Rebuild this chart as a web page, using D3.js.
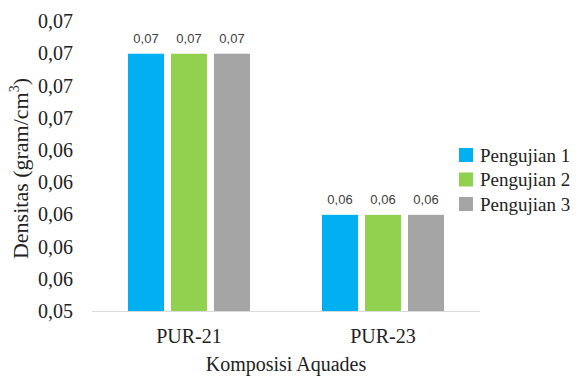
<!DOCTYPE html>
<html><head><meta charset="utf-8">
<script src="https://cdn.jsdelivr.net/npm/d3@7"></script>
<style>body{margin:0;background:#fff} .serif{font-family:"Liberation Serif","Times New Roman","DejaVu Serif",serif}</style>
</head><body>
<svg id="c" width="581" height="376"></svg>
<script>
const categories = ["PUR-21", "PUR-23"];
const seriesNames = ["Pengujian 1", "Pengujian 2", "Pengujian 3"];
const pengujian1 = [0.070, 0.060];
const pengujian2 = [0.070, 0.060];
const pengujian3 = [0.070, 0.060];
const yTicks = [0.054, 0.056, 0.058, 0.060, 0.062, 0.064, 0.066, 0.068, 0.070, 0.072];
const colors = ["#00B0F0", "#92D050", "#A5A5A5"];

const series = [pengujian1, pengujian2, pengujian3];
const svg = d3.select("#c");
const mLeft = 92, mRight = 480, mTop = 21.5, mBottom = 311.5;
const fmt = v => d3.format(".2f")(v).replace(".", ",");

const y = d3.scaleLinear().domain([0.054, 0.072]).range([mBottom, mTop]);
const x0 = d3.scaleBand().domain(categories).range([mLeft, mRight]).padding(0);
const x1 = d3.scaleBand().domain(seriesNames).range([36, 158]).paddingInner(0.163);

// y tick labels
svg.append("g").selectAll("text").data(yTicks).join("text")
  .attr("class", "serif")
  .attr("x", 73).attr("y", d => y(d)).attr("dy", "0.33em")
  .attr("text-anchor", "end")
  .attr("font-size", 20).attr("fill", "#222")
  .text(fmt);

// bars
const g = svg.append("g");
categories.forEach((c, i) => {
  seriesNames.forEach((s, j) => {
    const v = series[j][i];
    const bx = x0(c) + x1(s);
    g.append("rect").attr("x", bx).attr("y", y(v))
      .attr("width", x1.bandwidth()).attr("height", mBottom - 0.5 - y(v))
      .attr("fill", colors[j]);
    g.append("text").attr("x", bx + x1.bandwidth() / 2).attr("y", y(v) - 10.5)
      .attr("text-anchor", "middle")
      .style("font-family", "'Liberation Sans', Arial, sans-serif").attr("font-size", 13).attr("fill", "#404040")
      .text(fmt(v));
  });
});

// x axis line
svg.append("line").attr("x1", mLeft).attr("x2", mRight).attr("y1", mBottom).attr("y2", mBottom)
  .attr("stroke", "#D9D9D9").attr("stroke-width", 1);

// category labels
svg.append("g").selectAll("text").data(categories).join("text")
  .attr("class", "serif")
  .attr("x", d => x0(d) + x0.bandwidth() / 2).attr("y", 343)
  .attr("text-anchor", "middle")
  .attr("font-size", 20).attr("fill", "#222")
  .text(d => d);

// axis titles
svg.append("text").attr("class", "serif").attr("x", (mLeft + mRight) / 2).attr("y", 371)
  .attr("text-anchor", "middle")
  .attr("font-size", 20).attr("fill", "#222")
  .text("Komposisi Aquades");

const yt = svg.append("text").attr("class", "serif").attr("transform", "translate(28,168.5) rotate(-90)")
  .attr("text-anchor", "middle")
  .attr("font-size", 22).attr("fill", "#222");
yt.append("tspan").text("Densitas (gram/cm");
yt.append("tspan").attr("font-size", 14).attr("dy", -9).text("3");
yt.append("tspan").attr("dy", 9).text(")");

// legend
const lg = svg.append("g");
seriesNames.forEach((s, j) => {
  const ly = 148 + j * 24.5;
  lg.append("rect").attr("x", 459).attr("y", ly).attr("width", 14).attr("height", 14).attr("fill", colors[j]);
  lg.append("text").attr("class", "serif").attr("x", 480).attr("y", ly + 7).attr("dy", "0.35em")
    .attr("font-size", 19).attr("fill", "#222")
    .text(s);
});
</script>
</body></html>
